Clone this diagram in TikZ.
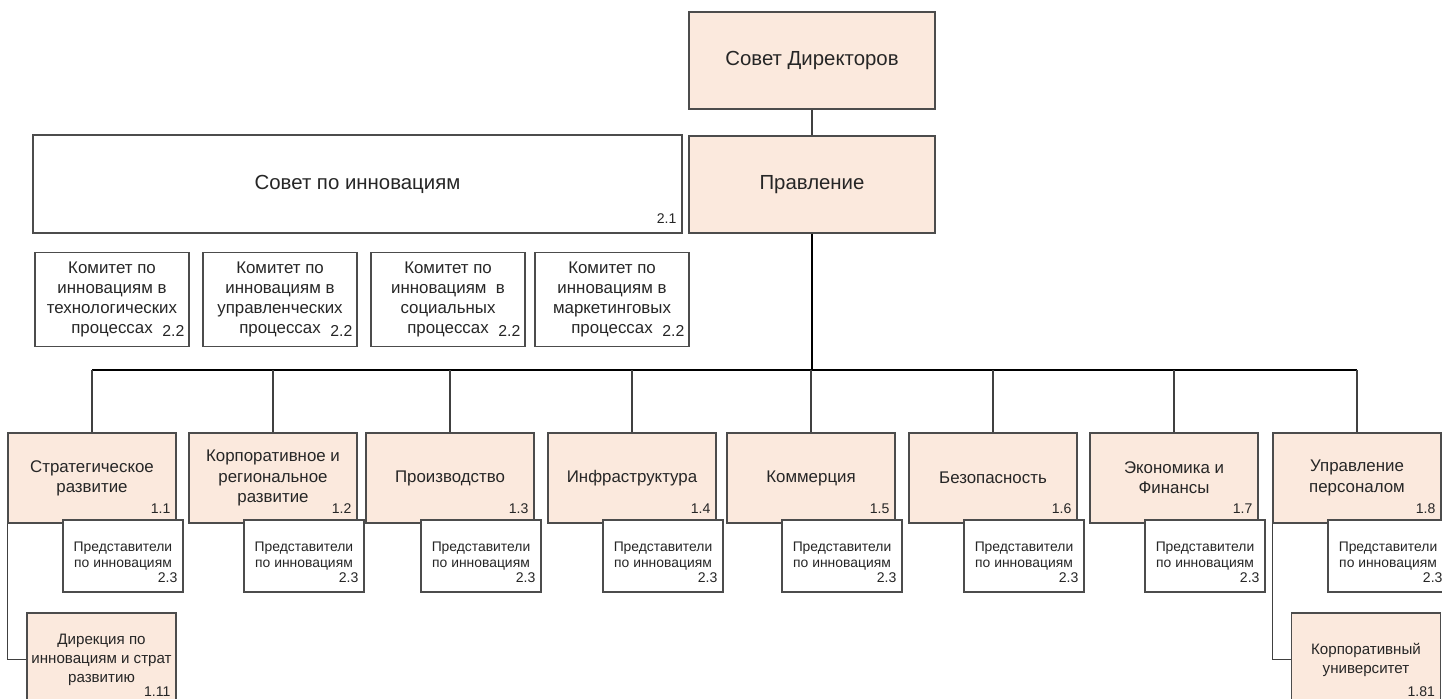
\documentclass[tikz,border=0pt]{standalone}
\usepackage{fontspec}
\setmainfont{Liberation Sans}
\definecolor{peach}{RGB}{251,233,221}

\begin{document}
\begin{tikzpicture}[x=0.02cm, y=-0.02cm,
        box/.style={rectangle, draw=black!70, line width=0.7pt, align=center, inner sep=1pt, text=black!85},
        head/.style={box, fill=peach, minimum width=4.92cm, minimum height=1.94cm, font=\fontsize{11.6}{13.5}\selectfont},
        council/.style={box, fill=white, minimum width=12.98cm, minimum height=1.96cm, font=\fontsize{11.6}{13.5}\selectfont},
        committee/.style={box, fill=white, minimum width=3.08cm, minimum height=1.88cm, font=\fontsize{9.6}{11.4}\selectfont},
        unit/.style={box, fill=peach, minimum width=3.36cm, minimum height=1.8cm, font=\fontsize{9.6}{11.5}\selectfont},
        rep/.style={box, fill=white, minimum width=2.4cm, minimum height=1.44cm, font=\fontsize{7.9}{9.5}\selectfont},
        sub/.style={box, fill=peach, minimum width=2.98cm, minimum height=1.86cm, font=\fontsize{8.6}{10.8}\selectfont},
        numlabel/.style={inner sep=0pt, anchor=base east, xshift=-3.3pt, yshift=5.6pt, text=black!85, font=\fontsize{8}{9.6}\selectfont},
        num/.style={label={[numlabel]south east:#1}},
        bignum/.style={label={[numlabel, font=\fontsize{9}{10.8}\selectfont, xshift=0.5pt, yshift=0.4pt]south east:#1}},
        thinline/.style={draw=black!75, line width=0.7pt},
        thickline/.style={draw=black, line width=1.1pt}
    ]
    \useasboundingbox (0,0) rectangle (1442,699);
    \clip (0,0) rectangle (1442,699);

    % Top of the structure
    \node[head] (sd) at (812, 60.5) {Совет Директоров};
    \node[head] (pr) at (812, 184.5) {Правление};
    \node[council, num=2.1] (council) at (357.5, 184) {Совет по инновациям};

    % Committees
    \node[committee, bignum=2.2] (c1) at (112, 299.5) {Комитет по\\инновациям в\\технологических\\процессах};
    \node[committee, bignum=2.2] (c2) at (280, 299.5) {Комитет по\\инновациям в\\управленческих\\процессах};
    \node[committee, bignum=2.2] (c3) at (448, 299.5) {Комитет по\\инновациям\ \ в\\социальных\\процессах};
    \node[committee, bignum=2.2] (c4) at (612, 299.5) {Комитет по\\инновациям в\\маркетинговых\\процессах};

    % Units
    \node[unit, num=1.1] (u1) at (92, 478) {Стратегическое\\развитие};
    \node[unit, num=1.2] (u2) at (273, 478) {Корпоративное и\\региональное\\развитие};
    \node[unit, num=1.3] (u3) at (450, 478) {Производство};
    \node[unit, num=1.4] (u4) at (632, 478) {Инфраструктура};
    \node[unit, num=1.5] (u5) at (811, 478) {Коммерция};
    \node[unit, num=1.6] (u6) at (993, 478) {Безопасность};
    \node[unit, num=1.7] (u7) at (1174, 478) {Экономика и\\Финансы};
    \node[unit, num=1.8] (u8) at (1357, 478) {Управление\\персоналом};

    % Representatives
    \node[rep, num=2.3] (r1) at (123, 556) {Представители\\по инновациям};
    \node[rep, num=2.3] (r2) at (304, 556) {Представители\\по инновациям};
    \node[rep, num=2.3] (r3) at (481, 556) {Представители\\по инновациям};
    \node[rep, num=2.3] (r4) at (663, 556) {Представители\\по инновациям};
    \node[rep, num=2.3] (r5) at (842, 556) {Представители\\по инновациям};
    \node[rep, num=2.3] (r6) at (1024, 556) {Представители\\по инновациям};
    \node[rep, num=2.3] (r7) at (1205, 556) {Представители\\по инновациям};
    \node[rep, num=2.3] (r8) at (1388, 556) {Представители\\по инновациям};

    % Subunits
    \node[sub, num=1.11] (s1) at (101.5, 659.5) {Дирекция по\\инновациям и страт\\развитию};
    \node[sub, num=1.81] (s8) at (1366, 659.5) {Корпоративный\\университет};

    \coordinate (bus) at (812, 370);
    \draw[thinline] (sd) -- (pr);
    \draw[thickline] (pr) -- (bus);
    \draw[thickline] (u1.north |- bus) -- (u8.north |- bus);
    \draw[thinline] (u1.north |- bus) -- (u1.north);
    \draw[thinline] (u2.north |- bus) -- (u2.north);
    \draw[thinline] (u3.north |- bus) -- (u3.north);
    \draw[thinline] (u4.north |- bus) -- (u4.north);
    \draw[thinline] (u5.north |- bus) -- (u5.north);
    \draw[thinline] (u6.north |- bus) -- (u6.north);
    \draw[thinline] (u7.north |- bus) -- (u7.north);
    \draw[thinline] (u8.north |- bus) -- (u8.north);
    \draw[thinline] (u1.south west) |- (s1.west);
    \draw[thinline] (u8.south west) |- (s8.west);
\end{tikzpicture}
\end{document}
